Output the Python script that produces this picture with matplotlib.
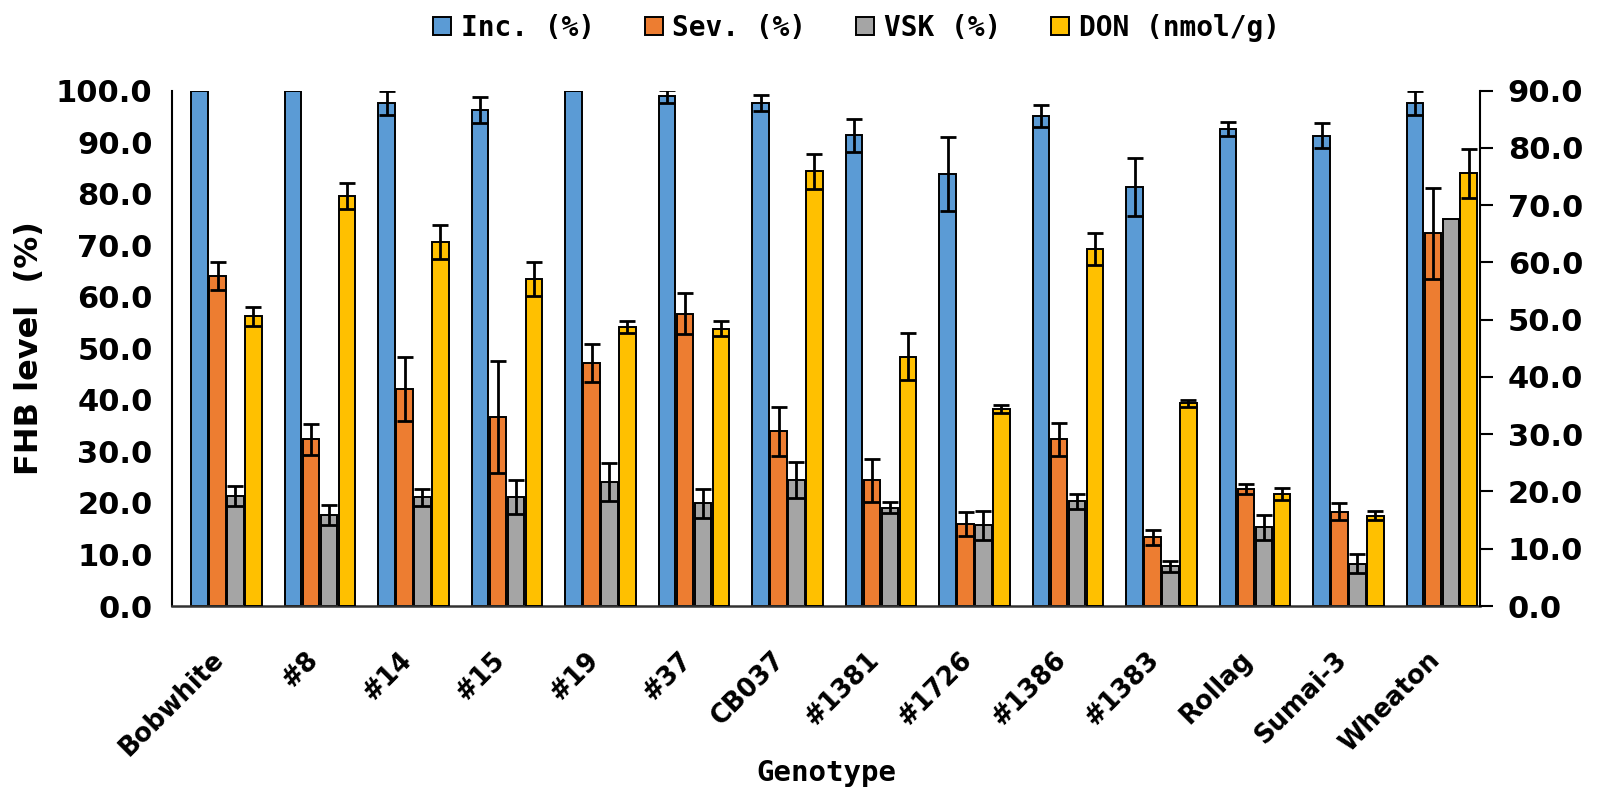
import numpy as np
import matplotlib
matplotlib.use("Agg")
import matplotlib.pyplot as plt
from matplotlib.transforms import ScaledTranslation

# Data
genotypes = ["Bobwhite", "#8", "#14", "#15", "#19", "#37", "CB037",
             "#1381", "#1726", "#1386", "#1383", "Rollag", "Sumai-3", "Wheaton"]

inc = [100, 100, 97.6, 96.3, 100, 98.9, 97.6, 91.4, 83.9, 95.1, 81.3, 92.6, 91.3, 97.6]
inc_err = [0, 0, 2.4, 2.5, 0, 1.2, 1.5, 3.2, 7.2, 2.1, 5.6, 1.4, 2.4, 2.4]

sev = [64.0, 32.4, 42.1, 36.7, 47.2, 56.7, 33.9, 24.4, 15.9, 32.4, 13.3, 22.7, 18.3, 72.3]
sev_err = [2.7, 3.0, 6.2, 10.9, 3.7, 4.0, 4.7, 4.2, 2.3, 3.2, 1.4, 0.9, 1.6, 8.8]

vsk = [21.4, 17.7, 21.1, 21.1, 24.1, 19.9, 24.4, 19.1, 15.7, 20.3, 7.7, 15.3, 8.2, 75.1]
vsk_err = [1.9, 1.9, 1.7, 3.3, 3.7, 2.8, 3.5, 1.1, 2.8, 1.4, 1.1, 2.4, 1.8, 0]

# DON is plotted on the secondary (right) axis
don = [50.6, 71.6, 63.6, 57.1, 48.7, 48.4, 75.9, 43.5, 34.4, 62.3, 35.4, 19.6, 15.8, 75.6]
don_err = [1.7, 2.3, 3.0, 2.9, 1.0, 1.3, 3.0, 4.1, 0.7, 2.8, 0.6, 1.05, 0.8, 4.3]

series_labels = ["Inc. (%)", "Sev. (%)", "VSK (%)", "DON (nmol/g)"]
colors = ["#5B9BD5", "#ED7D31", "#A5A5A5", "#FFC000"]

fig = plt.figure(figsize=(15.98, 7.93), dpi=100)
ax = fig.add_axes([172 / 1598, 1 - 606 / 793, (1480 - 172) / 1598, (606 - 90.7) / 793])
ax2 = ax.twinx()

x = np.arange(len(genotypes))
pitch = 0.1916
width = 0.178
offsets = (np.arange(4) - 1.5) * pitch

def draw(axis, vals, errs, off, color, label):
    bars = axis.bar(x + off, vals, width=width, color=color, edgecolor="black",
                    linewidth=1.4, label=label, zorder=2)
    errs = np.array(errs)
    m = errs > 0
    axis.errorbar((x + off)[m], np.array(vals)[m], yerr=errs[m], fmt="none",
                  ecolor="black", elinewidth=2, capsize=6, capthick=2, zorder=3)
    return bars

h1 = draw(ax, inc, inc_err, offsets[0], colors[0], series_labels[0])
h2 = draw(ax, sev, sev_err, offsets[1], colors[1], series_labels[1])
h3 = draw(ax, vsk, vsk_err, offsets[2], colors[2], series_labels[2])
h4 = draw(ax2, don, don_err, offsets[3], colors[3], series_labels[3])

ax.set_xlim(-0.583, 13.407)
ax.set_ylim(0, 100)
ax2.set_ylim(0, 90)
ax.set_yticks(np.arange(0, 101, 10))
ax2.set_yticks(np.arange(0, 91, 10))
ax.set_yticklabels([f"{v:.1f}" for v in np.arange(0, 101, 10)])
ax2.set_yticklabels([f"{v:.1f}" for v in np.arange(0, 91, 10)])

for a in (ax, ax2):
    a.spines["top"].set_visible(False)
ax.spines["right"].set_visible(False)
ax2.spines["left"].set_visible(False)
ax2.spines["bottom"].set_visible(False)
ax.spines["left"].set_linewidth(1.5)
ax.spines["bottom"].set_linewidth(1.8)
ax.spines["bottom"].set_color("#333333")
ax2.spines["right"].set_linewidth(1.5)

ax.tick_params(axis="y", length=0, pad=14, labelsize=22)
ax2.tick_params(axis="y", length=9, width=1.5, direction="out", pad=11, labelsize=22)
for lab in ax.get_yticklabels() + ax2.get_yticklabels():
    lab.set_fontweight("bold")

ax.set_xticks(x)
ax.set_xticklabels(genotypes, rotation=45, ha="right", va="center",
                   rotation_mode="anchor", fontsize=18.5, fontweight="bold")
ax.tick_params(axis="x", length=0, pad=36)
shift = ScaledTranslation(-6 / 100, 0, fig.dpi_scale_trans)
for lab in ax.get_xticklabels():
    lab.set_transform(lab.get_transform() + shift)

ax.set_ylabel("FHB level  (%)", fontsize=23, fontweight="bold", labelpad=8)
ax.set_xlabel("Genotype", fontsize=21, fontweight="bold", family="DejaVu Sans Mono")
ax.xaxis.set_label_coords(0.5, -0.297)

fig.legend([h1, h2, h3, h4], series_labels, loc="center", ncol=4,
           bbox_to_anchor=(0.536, 0.965), frameon=False,
           prop={"family": "DejaVu Sans Mono", "weight": "bold", "size": 20},
           handlelength=0.65, handleheight=0.65, handletextpad=0.35,
           columnspacing=1.8)

fig.savefig("out.png", dpi=100)
